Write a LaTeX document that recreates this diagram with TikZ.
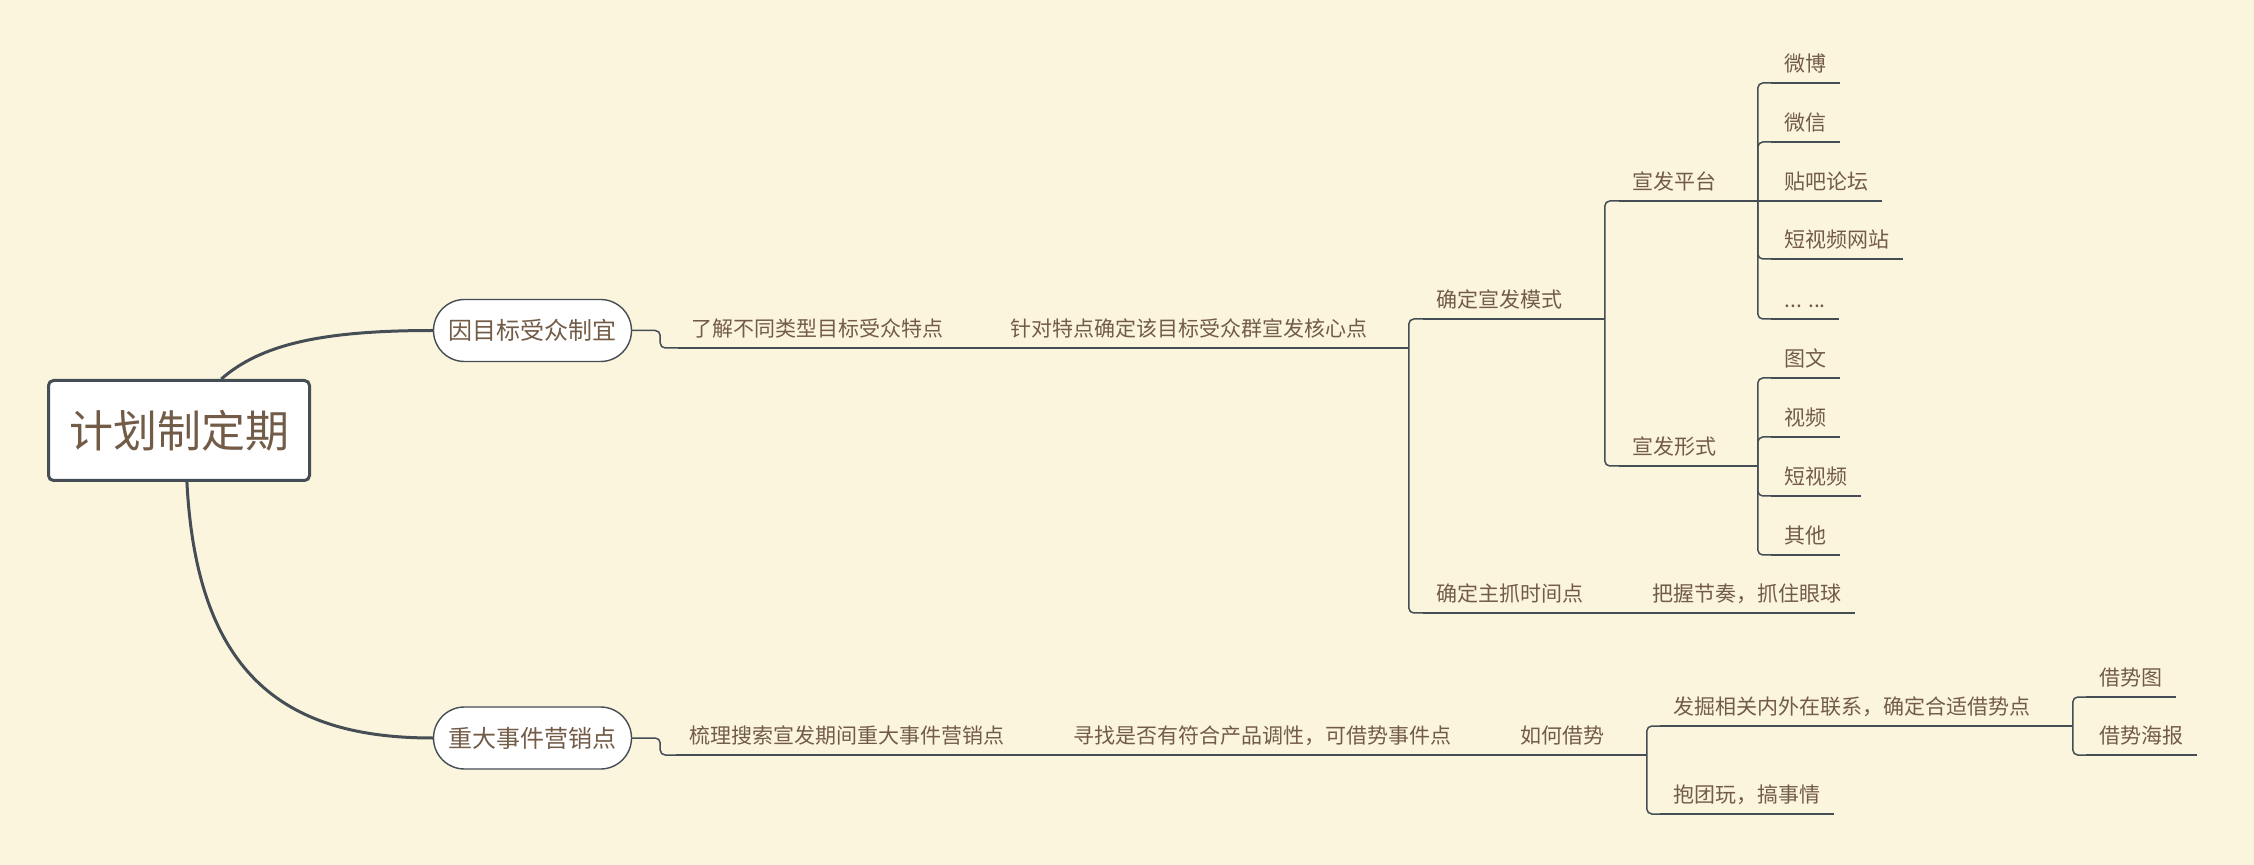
\documentclass[tikz,border=0pt]{standalone}
\usepackage{fontspec}
\setmainfont{Noto Sans CJK SC}
\usepackage{tikz}
\usetikzlibrary{calc}
\definecolor{paper}{RGB}{252,245,222}
\definecolor{ink}{RGB}{115,92,71}
\definecolor{wire}{RGB}{69,78,85}
\tikzset{
  topic/.style={anchor=south west, inner xsep=6.5pt, inner ysep=5.5pt, text depth=0pt,
    text=ink, font=\fontsize{10.5}{12}\selectfont},
  link/.style={draw=wire, line width=0.75pt, rounded corners=2.5pt},
  branch/.style={draw=wire, line width=0.7pt, fill=white, rounded corners=15.5pt,
    minimum width=99pt, minimum height=31pt, inner sep=0pt, text=ink,
    font=\fontsize{12}{14}\selectfont},
  trunk/.style={draw=wire, line width=1.5pt}
}

\begin{document}
\begin{tikzpicture}[x=0.5pt,y=-0.5pt]
      \fill[paper] (0,0) rectangle (2254,865);
      \useasboundingbox (0,0) rectangle (2254,865);
      % central topic and its two branches
      \node[draw=wire, line width=1.5pt, fill=white, rounded corners=2.5pt, minimum width=130.5pt,
        minimum height=50pt, text=ink, font=\fontsize{22}{26}\selectfont] (plan) at (179,430.5) {计划制定期};
      \node[branch] (aud) at (532.5,330.5) {因目标受众制宜};
      \node[branch] (evt) at (532.5,738) {重大事件营销点};
      \draw[trunk] ($(plan.north west)!0.66!(plan.north east)$) .. controls +(39,-34) and +(-113,0) .. (aud.west);
      \draw[trunk] ($(plan.south west)!0.53!(plan.south east)$) .. controls +(10,198) and +(-143,0) .. (evt.west);
      % upper branch
      \node[topic] (know) at (678,348) {了解不同类型目标受众特点};
      \node[topic] (core) at (997,348) {针对特点确定该目标受众群宣发核心点};
      \node[topic] (mode) at (1423,319) {确定宣发模式};
      \node[topic] (time) at (1423,613) {确定主抓时间点};
      \node[topic] (beat) at (1639,613) {把握节奏，抓住眼球};
      \node[topic] (plat) at (1619,201) {宣发平台};
      \node[topic] (form) at (1619,466) {宣发形式};
      \foreach \name/\y/\txt in {wb/83/微博, wx/142/微信, tb/201/贴吧论坛, dsp/259/短视频网站, etc/319/{... ...}}
        \node[topic] (\name) at (1771,\y) {\txt};
      \foreach \name/\y/\txt in {tw/378/图文, sp/437/视频, dsv/496/短视频, qt/555/其他}
        \node[topic] (\name) at (1771,\y) {\txt};
      % lower branch
      \node[topic] (comb) at (676,755) {梳理搜索宣发期间重大事件营销点};
      \node[topic] (seek) at (1060,755) {寻找是否有符合产品调性，可借势事件点};
      \node[topic] (how) at (1507,755) {如何借势};
      \node[topic] (dig) at (1660,726) {发掘相关内外在联系，确定合适借势点};
      \node[topic] (team) at (1660,814) {抱团玩，搞事情};
      \node[topic] (pic) at (2086,697) {借势图};
      \node[topic] (post) at (2086,755) {借势海报};
      % underlines
      \foreach \n in {know,core,mode,time,beat,plat,form,wb,wx,tb,dsp,etc,tw,sp,dsv,qt,comb,seek,how,dig,team,pic,post}
        \draw[link] (\n.south west) -- (\n.south east);
      % connectors
      \draw[link] (aud.east) -- ++(28,0) |- (know.south west);
      \draw[link] (know.south east) -- (core.south west);
      \draw[link] (core.south east) -- ++(28,0) coordinate (coreJ);
      \foreach \c in {mode,time} \draw[link] (coreJ) |- (\c.south west);
      \draw[link] (time.south east) -- (beat.south west);
      \draw[link] (mode.south east) -- ++(29,0) coordinate (modeJ);
      \foreach \c in {plat,form} \draw[link] (modeJ) |- (\c.south west);
      \draw[link] (plat.south east) -- ++(28,0) coordinate (platJ);
      \foreach \c in {wb,wx,dsp,etc} \draw[link] (platJ) |- (\c.south west);
      \draw[link] (platJ) -- (tb.south west);
      \draw[link] (form.south east) -- ++(28,0) coordinate (formJ);
      \foreach \c in {tw,sp,dsv,qt} \draw[link] (formJ) |- (\c.south west);
      \draw[link] (evt.east) -- ++(28,0) |- (comb.south west);
      \draw[link] (comb.south east) -- (seek.south west);
      \draw[link] (seek.south east) -- (how.south west);
      \draw[link] (how.south east) -- ++(29,0) coordinate (howJ);
      \foreach \c in {dig,team} \draw[link] (howJ) |- (\c.south west);
      \draw[link] (dig.south east) -- ++(29,0) coordinate (digJ);
      \foreach \c in {pic,post} \draw[link] (digJ) |- (\c.south west);
    \end{tikzpicture}
\end{document}
